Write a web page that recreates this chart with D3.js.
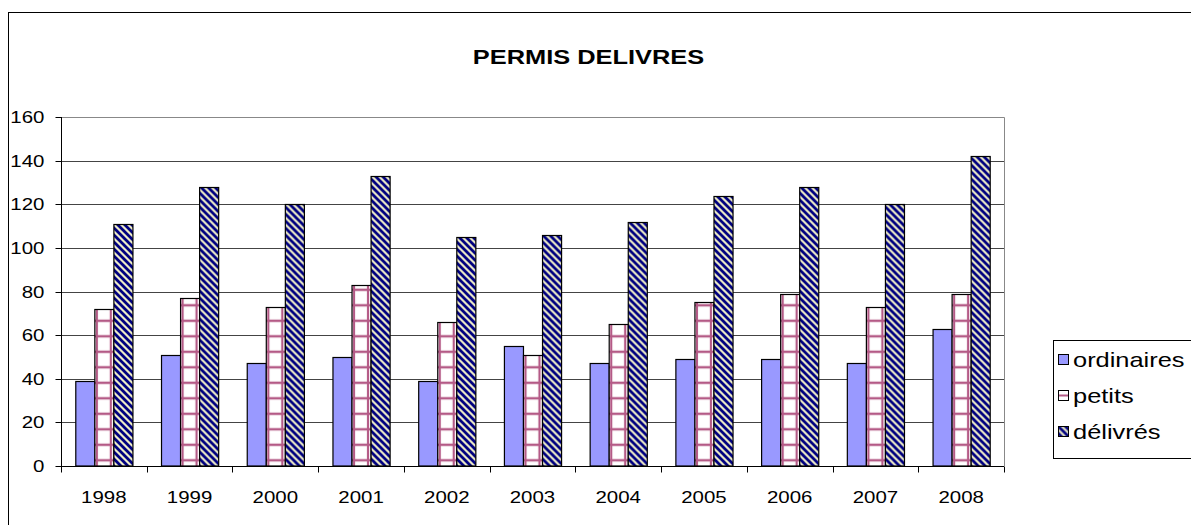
<!DOCTYPE html>
<html>
<head>
<meta charset="utf-8">
<script src="https://cdn.jsdelivr.net/npm/d3@7"></script>
<style>
  html, body { margin: 0; padding: 0; background: #fff; }
  svg { display: block; font-family: "Liberation Sans", Arial, sans-serif; }
</style>
</head>
<body>
<div id="chart"></div>
<script>
// ---------- Data ----------
const years = ["1998", "1999", "2000", "2001", "2002", "2003", "2004", "2005", "2006", "2007", "2008"];
const seriesNames = ["ordinaires", "petits", "délivrés"];
const ordinaires = [39, 51, 47, 50, 39, 55, 47, 49, 49, 47, 63];
const petits     = [72, 77, 73, 83, 66, 51, 65, 75, 79, 73, 79];
const delivres   = [111, 128, 120, 133, 105, 106, 112, 124, 128, 120, 142];
const yTicks = [0, 20, 40, 60, 80, 100, 120, 140, 160];

const seriesValues = [ordinaires, petits, delivres];
const rows = years.map((yr, i) => ({
  year: yr,
  values: seriesNames.map((s, k) => ({ key: s, value: seriesValues[k][i] }))
}));

// ---------- Layout ----------
const width = 1191, height = 525;
const stretch = 1.24; // text in the picture is horizontally stretched
const plot = { left: 61, right: 1004, top: 117, bottom: 466 };

const svg = d3.select("#chart").append("svg")
  .attr("width", width)
  .attr("height", height);

const x = d3.scaleBand()
  .domain(years)
  .range([plot.left, plot.right])
  .paddingInner(0)
  .paddingOuter(0);

const xs = d3.scaleBand()
  .domain(seriesNames)
  .range([0, x.bandwidth()])
  .paddingInner(0)
  .paddingOuter(0.75);

const y = d3.scaleLinear()
  .domain([0, 160])
  .range([plot.bottom, plot.top]);

const crisp = v => Math.round(v) + 0.5;

// stretched text helper
function sText(parent, tx, ty, str, size, anchor, weight) {
  return parent.append("text")
    .attr("transform", `translate(${tx},${ty}) scale(${stretch},1)`)
    .attr("text-anchor", anchor || "start")
    .attr("font-size", size)
    .attr("font-weight", weight || "normal")
    .attr("fill", "#000")
    .text(str);
}

// ---------- Patterns ----------
const defs = svg.append("defs");
const plum = "#b45a86";

// petits: white with plum grid; pattern lives in each group's local space
const petitsX = xs("petits") + 0.5;
const gridPat = defs.append("pattern")
  .attr("id", "pat-petits")
  .attr("patternUnits", "userSpaceOnUse")
  .attr("x", 0)
  .attr("y", plot.bottom - 5.7 - 7.75)
  .attr("width", x.step())
  .attr("height", 15.5);
gridPat.append("rect").attr("width", x.step()).attr("height", 15.5).attr("fill", "#fff");
gridPat.append("line")
  .attr("x1", 0).attr("x2", x.step()).attr("y1", 7.75).attr("y2", 7.75)
  .attr("stroke", plum).attr("stroke-width", 2.2);
[2, 16].forEach(off => {
  gridPat.append("line")
    .attr("x1", petitsX + off).attr("x2", petitsX + off)
    .attr("y1", 0).attr("y2", 15.5)
    .attr("stroke", plum).attr("stroke-width", 2.2);
});

// délivrés: navy / cream diagonal stripes
const stripePat = defs.append("pattern")
  .attr("id", "pat-delivres")
  .attr("patternUnits", "userSpaceOnUse")
  .attr("width", 7)
  .attr("height", 7);
stripePat.append("rect").attr("width", 7).attr("height", 7).attr("fill", "#ecebc6");
stripePat.append("path")
  .attr("d", "M-2,-2L9,9M-2,5L2,9M5,-2L9,2")
  .attr("stroke", "#000080")
  .attr("stroke-width", 2.8);

const fills = {
  "ordinaires": "#9999ff",
  "petits": "url(#pat-petits)",
  "délivrés": "url(#pat-delivres)"
};

// ---------- Outer frame ----------
svg.append("rect")
  .attr("x", 8.5).attr("y", 12.5)
  .attr("width", width + 20).attr("height", height + 20)
  .attr("fill", "none")
  .attr("stroke", "#000")
  .attr("stroke-width", 1);

// ---------- Title ----------
sText(svg, (plot.left + plot.right) / 2 + 56, 64, "PERMIS DELIVRES", 20.5, "middle", "bold");

// ---------- Gridlines ----------
svg.append("g")
  .selectAll("line")
  .data(yTicks.filter(t => t > 0 && t < 160))
  .enter().append("line")
  .attr("x1", plot.left).attr("x2", plot.right)
  .attr("y1", d => crisp(y(d))).attr("y2", d => crisp(y(d)))
  .attr("stroke", "#444")
  .attr("stroke-width", 1);

// plot area border (top / right)
svg.append("path")
  .attr("d", `M${plot.left},${crisp(y(160))}H${crisp(plot.right)}V${plot.bottom}`)
  .attr("fill", "none")
  .attr("stroke", "#888")
  .attr("stroke-width", 1);

// ---------- Bars ----------
const groups = svg.append("g")
  .selectAll("g")
  .data(rows)
  .enter().append("g")
  .attr("transform", d => `translate(${x(d.year)},0)`);

groups.selectAll("rect")
  .data(d => d.values)
  .enter().append("rect")
  .attr("x", d => xs(d.key) + 0.5)
  .attr("y", d => crisp(y(d.value)))
  .attr("width", xs.bandwidth())
  .attr("height", d => y(0) - crisp(y(d.value)))
  .attr("fill", d => fills[d.key])
  .attr("stroke", "#000")
  .attr("stroke-width", 1.2);

// ---------- Axes ----------
const yAxis = svg.append("g")
  .attr("transform", `translate(${crisp(plot.left)},0)`);
yAxis.append("line")
  .attr("y1", plot.top).attr("y2", plot.bottom + 0.5)
  .attr("stroke", "#000");
yAxis.selectAll("line.tick")
  .data(yTicks)
  .enter().append("line")
  .attr("class", "tick")
  .attr("x1", -6).attr("x2", 0)
  .attr("y1", d => crisp(y(d))).attr("y2", d => crisp(y(d)))
  .attr("stroke", "#000");
yTicks.forEach(t => sText(yAxis, -17, y(t) + 6, t, 16.5, "end"));

const xAxis = svg.append("g")
  .attr("transform", `translate(0,${crisp(plot.bottom)})`);
xAxis.append("line")
  .attr("x1", plot.left).attr("x2", plot.right)
  .attr("stroke", "#000");
const boundaries = years.map(yr => x(yr)).concat([x(years[years.length - 1]) + x.step()]);
xAxis.selectAll("line.tick")
  .data(boundaries)
  .enter().append("line")
  .attr("class", "tick")
  .attr("x1", d => crisp(d)).attr("x2", d => crisp(d))
  .attr("y1", 0).attr("y2", 6)
  .attr("stroke", "#000");
years.forEach(yr => sText(xAxis, x(yr) + x.bandwidth() / 2, 36, yr, 16.5, "middle"));

// ---------- Legend ----------
const legend = svg.append("g");
legend.append("rect")
  .attr("x", 1053.5).attr("y", 340.5)
  .attr("width", 200).attr("height", 118)
  .attr("fill", "#fff")
  .attr("stroke", "#000");

const legendRowY = [360, 396, 432];
seriesNames.forEach((name, i) => {
  const cy = legendRowY[i];
  const sw = legend.append("g").attr("transform", `translate(1058.5,${cy - 5.5})`);
  if (name === "petits") {
    sw.append("rect").attr("width", 10).attr("height", 10).attr("fill", "#fff");
    sw.append("line").attr("x1", 0).attr("x2", 10).attr("y1", 5).attr("y2", 5)
      .attr("stroke", plum).attr("stroke-width", 2);
    sw.append("rect").attr("width", 10).attr("height", 10).attr("fill", "none").attr("stroke", "#000");
  } else {
    sw.append("rect").attr("width", 10).attr("height", 10)
      .attr("fill", fills[name]).attr("stroke", "#000");
  }
  sText(legend, 1073, cy + 7, name, 20.5, "start");
});
</script>
</body>
</html>
